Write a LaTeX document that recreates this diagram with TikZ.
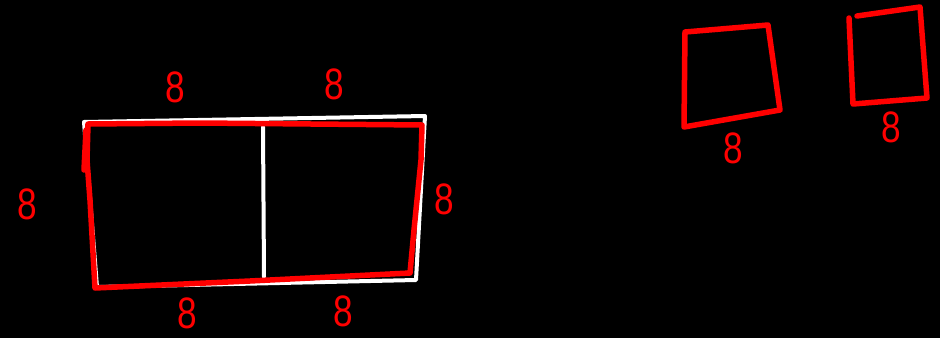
\documentclass[tikz,border=0pt]{standalone}
\usepackage{fontspec}
\setmainfont{Liberation Sans}
\begin{document}
\begin{tikzpicture}[x=1pt,y=-1pt,
  wline/.style={draw=white,line width=4pt,line cap=round,line join=round},
  rline/.style={draw=red,line width=5.5pt,line cap=round,line join=round},
  lbl/.style={text=red,font=\fontsize{44}{44}\selectfont,inner sep=0pt,xscale=0.8}]
\fill[black] (0,0) rectangle (940,338);
\useasboundingbox (0,0) rectangle (940,338);
% white outline
\draw[wline] (84,122) -- (425,116) -- (416,280) -- (97,287) -- cycle;
\draw[wline] (263,127) -- (264,277);
% red overdraw
\draw[rline] (88,124) -- (200,123) -- (422,125) -- (421,160) -- (414,230) -- (410,273) -- (250,281) -- (95,288) -- (90,200) -- (87,160) -- cycle;
\draw[rline] (86,130) -- (84,170);
% right squares
\draw[rline] (685,32) -- (768,25) -- (780,110) -- (684,127) -- cycle;
\draw[rline] (849,18) -- (853,104) -- (927,98) -- (920,7) -- (857,16);
% labels
\node[lbl] (t1) at (175,87) {8};
\node[lbl] (t2) at (334,84) {8};
\node[lbl] (l1) at (27,204) {8};
\node[lbl] (r1) at (444,199) {8};
\node[lbl] (b1) at (187,313) {8};
\node[lbl] (b2) at (343,311) {8};
\node[lbl] (s1) at (733,148) {8};
\node[lbl] (s2) at (891,127) {8};
\end{tikzpicture}
\end{document}
